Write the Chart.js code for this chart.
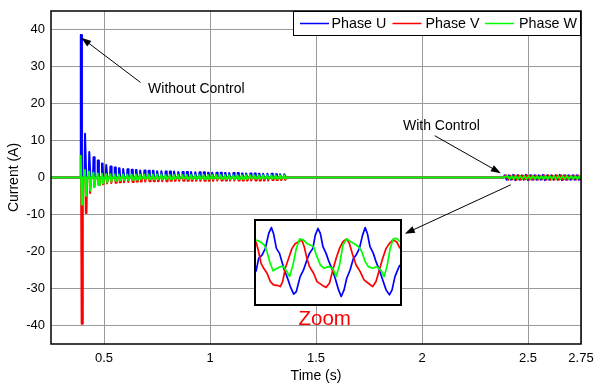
<!DOCTYPE html>
<html>
<head>
<meta charset="utf-8">
<script src="https://cdn.jsdelivr.net/npm/chart.js@4.4.0/dist/chart.umd.min.js"></script>
<style>
  html, body { margin: 0; padding: 0; background: #fff; }
  canvas { display: block; }
  #wrap { position: relative; width: 596px; height: 385px; }
  #zoomBox { position: absolute; left: 254px; top: 219px; width: 144px; height: 83px; border: 2px solid #000; background: #fff; }
</style>
</head>
<body>
<div id="wrap">
  <canvas id="myChart" width="596" height="385"></canvas>
  <div id="zoomBox"><canvas id="zoomChart" width="144" height="83"></canvas></div>
</div>
<script>
// axis ticks
const xTicks = [0.5, 1, 1.5, 2, 2.5, 2.75];
const yTicks = [-40, -30, -20, -10, 0, 10, 20, 30, 40];

// transient without control: one spike per 50 Hz cycle (s, A)
const cycleTimes = [0.392, 0.412, 0.432, 0.452, 0.472, 0.492, 0.512, 0.532, 0.552, 0.572,
  0.592, 0.612, 0.632, 0.652, 0.672, 0.692, 0.712, 0.732, 0.752, 0.772,
  0.792, 0.812, 0.832, 0.852, 0.872, 0.892, 0.912, 0.932, 0.952, 0.972,
  0.992, 1.012, 1.032, 1.052, 1.072, 1.092, 1.112, 1.132, 1.152, 1.172,
  1.192, 1.212, 1.232, 1.252, 1.272, 1.292, 1.312, 1.332, 1.352];
const peakU = [38.5, 11.8, 6.9, 5.5, 4.6, 3.8, 3.4, 3.0, 2.7, 2.5,
  2.3, 2.2, 2.1, 2.0, 1.9, 1.9, 1.8, 1.8, 1.7, 1.7,
  1.6, 1.6, 1.6, 1.5, 1.5, 1.5, 1.5, 1.4, 1.4, 1.4,
  1.3, 1.3, 1.3, 1.3, 1.2, 1.2, 1.2, 1.2, 1.1, 1.1,
  1.1, 1.1, 1.0, 1.0, 1.0, 1.0, 0.9, 0.9, 0.9];
const troughV = [-39.5, -9.6, -4.2, -2.6, -2.0, -1.8, -1.6, -1.5, -1.4, -1.3,
  -1.3, -1.2, -1.2, -1.1, -1.1, -1.1, -1.0, -1.0, -1.0, -1.0,
  -1.0, -0.9, -0.9, -0.9, -0.9, -0.9, -0.9, -0.9, -0.9, -0.9,
  -0.9, -0.9, -0.8, -0.8, -0.8, -0.8, -0.8, -0.8, -0.8, -0.8,
  -0.8, -0.8, -0.8, -0.8, -0.8, -0.7, -0.7, -0.7, -0.7];
const peakW = [5.9, 2.0, 1.6, 1.3, 1.1, 1.0, 0.9, 0.9, 0.8, 0.8,
  0.8, 0.8, 0.8, 0.8, 0.8, 0.8, 0.8, 0.8, 0.8, 0.8,
  0.7, 0.7, 0.7, 0.7, 0.7, 0.7, 0.7, 0.7, 0.7, 0.7,
  0.7, 0.7, 0.7, 0.7, 0.7, 0.6, 0.6, 0.6, 0.6, 0.6,
  0.6, 0.6, 0.6, 0.6, 0.6, 0.6, 0.6, 0.6, 0.6];
const troughW = [-7.3, -4.9, -3.5, -2.6, -2.0, -1.6, -1.3, -1.1, -0.9, -0.8,
  -0.7, -0.7, -0.6, -0.6, -0.5, -0.5, -0.5, -0.5, -0.5, -0.5,
  -0.5, -0.5, -0.4, -0.4, -0.4, -0.4, -0.4, -0.4, -0.4, -0.4,
  -0.4, -0.4, -0.4, -0.4, -0.4, -0.4, -0.4, -0.4, -0.4, -0.4,
  -0.3, -0.3, -0.3, -0.3, -0.3, -0.3, -0.3, -0.3, -0.3];

// with control (from 2.385 s)
const ctrlStart = 2.385;
const ctrlTimes = [2.39, 2.41, 2.43, 2.45, 2.47, 2.49, 2.51, 2.53, 2.55,
  2.57, 2.59, 2.61, 2.63, 2.65, 2.67, 2.69, 2.71, 2.73];
const ctrlAmpU = [0.6, 0.6, 0.7, 0.6, 0.6, 0.7, 0.6, 0.6, 0.6, 0.7, 0.6, 0.6, 0.6, 0.7, 0.6, 0.6, 0.6, 0.6];
const ctrlAmpV = [0.6, 0.5, 0.6, 0.6, 0.5, 0.6, 0.6, 0.6, 0.5, 0.6, 0.6, 0.5, 0.6, 0.6, 0.6, 0.5, 0.6, 0.6];
const ctrlAmpW = [0.4, 0.4, 0.4, 0.4, 0.4, 0.4, 0.4, 0.4, 0.4, 0.4, 0.4, 0.4, 0.4, 0.4, 0.4, 0.4, 0.4, 0.4];

// zoomed view, three cycles: [ms, A]
const insetU = [[0, -0.22], [1.1, 0.10], [2.5, 0.18], [3.9, 0.34], [5.3, 0.70], [6.4, 0.84], [7.3, 0.70],
  [8.5, 0.34], [9.8, 0.22], [10.8, 0.02], [11.8, -0.18], [12.9, -0.34], [14.3, -0.58], [15.7, -0.76],
  [16.8, -0.70], [18.4, -0.34], [19.8, -0.18], [21.2, 0.06], [22.3, 0.22], [23.7, 0.34], [24.7, 0.66],
  [25.8, 0.82], [26.8, 0.70], [27.9, 0.38], [29.2, 0.22], [30.4, 0.02], [31.6, -0.14], [33.0, -0.38],
  [34.4, -0.66], [35.5, -0.82], [36.7, -0.66], [37.8, -0.38], [39.2, -0.18], [40.6, 0.10], [41.7, 0.18],
  [43.1, 0.34], [44.4, 0.66], [45.5, 0.84], [46.4, 0.70], [47.5, 0.38], [48.9, 0.22], [50.0, 0.02],
  [51.4, -0.18], [52.8, -0.42], [54.2, -0.66], [55.6, -0.78], [56.7, -0.66], [57.9, -0.34], [59.3, -0.14],
  [60.0, -0.06]];
const insetV = [[0, 0.50], [1.1, 0.26], [2.1, -0.02], [3.2, -0.14], [4.6, -0.26], [6.0, -0.46], [7.3, -0.54],
  [8.7, -0.55], [10.1, -0.58], [11.1, -0.46], [12.2, -0.14], [13.6, 0.10], [15.0, 0.34], [16.4, 0.46],
  [17.7, 0.50], [19.1, 0.54], [20.1, 0.38], [21.2, 0.10], [22.3, -0.10], [24.0, -0.26], [25.4, -0.46],
  [27.4, -0.54], [29.2, -0.60], [30.6, -0.50], [32.0, -0.18], [33.4, 0.10], [34.8, 0.34], [36.2, 0.50],
  [37.8, 0.57], [38.9, 0.46], [40.3, 0.18], [41.7, -0.06], [43.4, -0.22], [45.0, -0.42], [46.8, -0.50],
  [48.6, -0.58], [50.0, -0.46], [51.4, -0.18], [52.8, 0.10], [54.2, 0.34], [55.6, 0.46], [57.0, 0.54],
  [58.6, 0.50], [60.0, 0.34]];
const insetW = [[0, 0.54], [1.8, 0.50], [3.5, 0.42], [4.6, 0.26], [5.7, 0.02], [7.1, -0.20], [8.5, -0.15],
  [10.1, -0.10], [11.5, -0.10], [12.9, -0.22], [14.0, -0.34], [15.4, -0.06], [16.8, 0.34], [18.2, 0.57],
  [19.8, 0.54], [21.2, 0.46], [22.6, 0.42], [24.0, 0.38], [25.4, 0.14], [26.8, -0.06], [28.4, -0.14],
  [30.2, -0.10], [32.0, -0.14], [33.4, -0.34], [34.8, -0.06], [36.2, 0.42], [37.8, 0.57], [39.5, 0.50],
  [41.3, 0.44], [42.7, 0.38], [44.1, 0.26], [45.5, 0.02], [46.8, -0.10], [48.6, -0.14], [50.3, -0.10],
  [52.0, -0.18], [53.4, -0.34], [54.7, -0.06], [55.9, 0.34], [57.2, 0.57], [58.6, 0.58], [60.0, 0.50]];

const BLUE = '#0000ff';
const RED = '#ff0000';
const GREEN = '#00ff00';
const FONT = "'Liberation Sans', Arial, sans-serif";

Chart.defaults.font.family = FONT;
Chart.defaults.color = '#000';

function phaseSeries(shape, ctrlAmp, ctrlShift) {
  const pts = [{ x: 0.25, y: 0 }];
  cycleTimes.forEach((t, k) => {
    shape(k).forEach(([dt, y]) => pts.push({ x: t + dt, y }));
  });
  pts.push({ x: ctrlStart, y: 0 });
  ctrlTimes.forEach((t, k) => {
    pts.push({ x: t + ctrlShift, y: ctrlAmp[k] });
    pts.push({ x: t + ctrlShift + 0.01, y: -ctrlAmp[k] });
  });
  return pts;
}

// each spike is a narrow flat-topped pulse so it reads as a small block
const seriesU = phaseSeries((k) => [[-0.004, 0], [-0.0015, peakU[k]], [0.0015, peakU[k]], [0.004, 0]], ctrlAmpU, 0);
const seriesV = phaseSeries((k) => [[0, 0], [0.0025, troughV[k]], [0.0055, troughV[k]], [0.008, 0]], ctrlAmpV, 0.0067);
const seriesW = phaseSeries((k) => [[-0.005, 0], [-0.002, peakW[k]], [0.003, troughW[k]], [0.005, troughW[k]], [0.008, 0]], ctrlAmpW, 0.0133);

const arrows = [
  { from: [0.672, 25.7], to: [0.393, 37.8] },
  { from: [2.060, 11.3], to: [2.372, 1.16] },
  { from: [2.419, -1.97], to: [1.919, -15.2] },
];
const notes = [
  { text: 'Without Control', at: [0.708, 24.0], color: '#000', size: 14, align: 'left' },
  { text: 'With Control', at: [1.910, 13.9], color: '#000', size: 14, align: 'left' },
  { text: 'Zoom', at: [1.541, -38.3], color: '#ff0000', size: 20.5, align: 'center' },
];

const decorations = {
  id: 'decorations',
  afterDraw(chart) {
    const { ctx, chartArea: a, scales: { x, y } } = chart;
    ctx.save();

    // plot box
    ctx.strokeStyle = '#000';
    ctx.lineWidth = 1.5;
    ctx.strokeRect(a.left, a.top, a.right - a.left, a.bottom - a.top);

    // arrows
    ctx.lineWidth = 1;
    ctx.fillStyle = '#000';
    arrows.forEach(({ from, to }) => {
      const x0 = x.getPixelForValue(from[0]), y0 = y.getPixelForValue(from[1]);
      const x1 = x.getPixelForValue(to[0]), y1 = y.getPixelForValue(to[1]);
      const ang = Math.atan2(y1 - y0, x1 - x0);
      ctx.beginPath();
      ctx.moveTo(x0, y0);
      ctx.lineTo(x1 - 8 * Math.cos(ang), y1 - 8 * Math.sin(ang));
      ctx.stroke();
      ctx.beginPath();
      ctx.moveTo(x1, y1);
      ctx.lineTo(x1 - 10 * Math.cos(ang) + 3.5 * Math.sin(ang), y1 - 10 * Math.sin(ang) - 3.5 * Math.cos(ang));
      ctx.lineTo(x1 - 10 * Math.cos(ang) - 3.5 * Math.sin(ang), y1 - 10 * Math.sin(ang) + 3.5 * Math.cos(ang));
      ctx.closePath();
      ctx.fill();
    });

    // text notes
    ctx.textBaseline = 'middle';
    notes.forEach((n) => {
      ctx.font = `${n.size}px ${FONT}`;
      ctx.fillStyle = n.color;
      ctx.textAlign = n.align;
      ctx.fillText(n.text, x.getPixelForValue(n.at[0]), y.getPixelForValue(n.at[1]));
    });

    // legend box
    const lx = 293, ly = a.top, lw = a.right - 293, lh = 24;
    ctx.fillStyle = '#fff';
    ctx.fillRect(lx, ly, lw, lh);
    ctx.strokeStyle = '#000';
    ctx.lineWidth = 1;
    ctx.strokeRect(lx + 0.5, ly + 0.5, lw - 1, lh);
    const items = [[300, 331.5], [392.5, 425.5], [485, 519]];
    ctx.font = `14.3px ${FONT}`;
    ctx.textAlign = 'left';
    chart.data.datasets.forEach((ds, i) => {
      const [sx, tx] = items[i];
      ctx.strokeStyle = ds.borderColor;
      ctx.lineWidth = 1.5;
      ctx.beginPath();
      ctx.moveTo(sx, ly + 12.5);
      ctx.lineTo(sx + 29, ly + 12.5);
      ctx.stroke();
      ctx.fillStyle = '#000';
      ctx.fillText(ds.label, tx, ly + 13.5);
    });
    ctx.restore();
  },
};

const noEdgePadding = (scale) => {
  scale.paddingLeft = 0;
  scale.paddingRight = 0;
  scale.paddingTop = 0;
  scale.paddingBottom = 0;
};

new Chart(document.getElementById('myChart'), {
  type: 'line',
  data: {
    datasets: [
      { label: 'Phase U', data: seriesU, borderColor: BLUE, order: 2 },
      { label: 'Phase V', data: seriesV, borderColor: RED, order: 1 },
      { label: 'Phase W', data: seriesW, borderColor: GREEN, order: 0 },
    ],
  },
  options: {
    responsive: false,
    animation: false,
    devicePixelRatio: 1,
    layout: { padding: { top: 11, right: 15, left: 0, bottom: 0 } },
    elements: {
      point: { radius: 0 },
      line: { borderWidth: 2, tension: 0, borderJoinStyle: 'round', borderCapStyle: 'round' },
    },
    plugins: { legend: { display: false }, tooltip: { enabled: false } },
    scales: {
      x: {
        type: 'linear',
        min: 0.25,
        max: 2.75,
        afterBuildTicks: (scale) => { scale.ticks = xTicks.map((v) => ({ value: v })); },
        afterFit: (scale) => { scale.height = 41; noEdgePadding(scale); },
        ticks: { font: { size: 13 }, padding: 7, maxRotation: 0, callback: (v) => String(v) },
        grid: { color: '#9a9a9a', drawTicks: false },
        border: { display: false },
        title: { display: true, text: 'Time (s)', font: { size: 14 }, padding: { top: 0, bottom: 0 } },
      },
      y: {
        min: -45,
        max: 45,
        afterBuildTicks: (scale) => { scale.ticks = yTicks.map((v) => ({ value: v })); },
        afterFit: (scale) => { scale.width = 51; noEdgePadding(scale); },
        ticks: { font: { size: 13 }, padding: 6, callback: (v) => String(v) },
        grid: { color: '#9a9a9a', drawTicks: false },
        border: { display: false },
        title: { display: true, text: 'Current (A)', font: { size: 14 }, padding: { top: 6, bottom: 0 } },
      },
    },
  },
  plugins: [decorations],
});

const toPoints = (arr) => arr.map(([x, y]) => ({ x, y }));

new Chart(document.getElementById('zoomChart'), {
  type: 'line',
  data: {
    datasets: [
      { data: toPoints(insetU), borderColor: BLUE, order: 2 },
      { data: toPoints(insetV), borderColor: RED, order: 1 },
      { data: toPoints(insetW), borderColor: GREEN, order: 0 },
    ],
  },
  options: {
    responsive: false,
    animation: false,
    devicePixelRatio: 1,
    layout: { padding: 0 },
    elements: { point: { radius: 0 }, line: { borderWidth: 1.7, tension: 0, borderJoinStyle: 'round' } },
    plugins: { legend: { display: false }, tooltip: { enabled: false } },
    scales: {
      x: { type: 'linear', min: 0, max: 60, display: false },
      y: { min: -1, max: 1, display: false },
    },
  },
});
</script>
</body>
</html>
